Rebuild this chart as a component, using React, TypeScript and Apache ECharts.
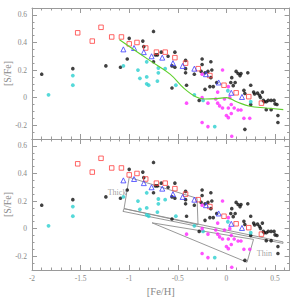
import { useEffect, useRef } from 'react';
import * as echarts from 'echarts';

// ---- data ([Fe/H], [S/Fe]) ----
const blackStars: number[][] = [
  [-1.90, 0.17], [-1.58, 0.21], [-1.24, 0.23], [-1.09, 0.22], [-1.00, 0.43], [-1.02, 0.28],
  [-0.86, 0.41], [-0.85, 0.37], [-0.75, 0.48], [-0.75, 0.26], [-0.71, 0.31], [-0.73, 0.31],
  [-0.67, 0.33], [-0.60, 0.30], [-0.53, 0.33], [-0.56, 0.23], [-0.53, 0.22], [-0.42, 0.27],
  [-0.42, 0.21], [-0.42, 0.18], [-0.33, 0.17], [-0.25, 0.28], [-0.25, 0.24], [-0.16, 0.26],
  [-0.26, 0.19], [-0.22, 0.18], [-0.19, 0.19], [-0.15, 0.20], [-0.16, 0.145], [-0.56, 0.07],
  [-0.41, 0.09], [-0.22, 0.06], [-0.17, 0.08], [-0.135, 0.08], [-0.10, 0.11], [-0.28, -0.02],
  [0.045, 0.11], [0.055, 0.145], [0.10, 0.19], [0.12, 0.175], [0.15, 0.175], [0.14, 0.16],
  [0.22, 0.18], [0.07, 0.087], [0.09, 0.11], [0.25, 0.09], [0.18, 0.053], [0.19, 0.03],
  [0.28, 0.04], [0.29, 0.026], [0.32, 0.033], [0.34, 0.017], [0.37, 0.04], [0.35, 0.002],
  [0.38, -0.02], [0.39, -0.03], [0.41, -0.03], [0.43, -0.02], [0.46, -0.02], [0.49, -0.02],
  [0.50, -0.045], [0.52, -0.05], [0.41, -0.087], [0.46, -0.087], [0.53, -0.13], [0.53, -0.18],
  [0.19, -0.23], [0.25, -0.05],
];
const redSquares: number[][] = [
  [-1.53, 0.47], [-1.38, 0.41], [-1.29, 0.51], [-1.18, 0.44], [-1.08, 0.44], [-1.00, 0.39],
  [-0.92, 0.40], [-0.83, 0.36], [-0.72, 0.33], [-0.63, 0.33], [-0.53, 0.29], [-0.42, 0.25],
  [-0.29, 0.21], [-0.17, 0.16], [-0.025, 0.09], [0.10, 0.035], [0.23, 0.007], [0.36, -0.04],
];
const blueTriangles: number[][] = [
  [-1.06, 0.35], [-0.95, 0.36], [-0.85, 0.33], [-0.77, 0.30], [-0.66, 0.29], [-0.55, 0.25],
  [-0.45, 0.23], [-0.33, 0.21], [-0.21, 0.17], [-0.08, 0.11], [0.05, 0.035], [0.16, 0.005],
];
const cyanStars: number[][] = [
  [-1.83, 0.02], [-1.58, 0.16], [-1.58, 0.09], [-1.06, 0.23], [-0.91, 0.20], [-0.89, 0.14],
  [-0.82, 0.26], [-0.82, 0.15], [-0.82, 0.10], [-0.80, 0.09], [-0.70, 0.215], [-0.70, 0.18],
  [-0.63, 0.21], [-0.71, 0.12], [-0.52, 0.09], [-0.33, 0.02], [-0.24, -0.02], [-0.12, -0.21],
  [0.015, 0.05], [0.25, -0.03],
];
const magentaStars: number[][] = [
  [-0.04, 0.20], [-0.25, 0.17], [-0.09, 0.04], [0.02, 0.08], [-0.41, -0.04], [-0.25, 0.00],
  [-0.19, -0.04], [-0.11, -0.01], [-0.09, -0.04], [-0.07, -0.06], [-0.04, -0.075], [-0.02, -0.01],
  [0.035, 0.0], [0.02, -0.075], [0.08, -0.075], [0.05, -0.05], [0.05, -0.115], [0.0, -0.13],
  [0.02, -0.145], [0.12, -0.09], [0.15, -0.09], [0.18, -0.15], [0.24, -0.15], [-0.25, -0.18],
  [-0.19, -0.21], [0.055, -0.28],
];
const greenTrend: number[][] = [
  [-1.10, 0.42], [-0.79, 0.27], [-0.58, 0.17], [-0.44, 0.07], [-0.31, 0.004], [-0.22, -0.01],
  [-0.10, -0.007], [0.0, 0.0], [0.105, -0.03], [0.24, -0.063], [0.41, -0.075], [0.585, -0.087],
];
const thickRegion: number[][] = [
  [-1.0, 0.372], [-0.302, 0.22], [-0.292, 0.028], [-1.053, 0.145], [-1.0, 0.372],
];
const thinBand: number[][] = [
  [-1.053, 0.145], [0.582, -0.096], [0.582, -0.107], [-1.064, 0.125], [-1.053, 0.145],
];
const thinWedge: number[][] = [
  [-0.765, 0.042], [0.279, -0.078], [0.212, -0.244], [-0.765, 0.042],
];
const regionLabels = [
  { name: 'Thick', value: [-1.125, 0.263] },
  { name: 'Thin', value: [0.39, -0.18] },
];

const X_MIN = -2;
const X_MAX = 0.65;
const Y_MIN = -0.3;
const Y_MAX = 0.65;

const AXIS_COLOR = '#9a9a9a';
const TEXT_COLOR = '#888888';
const FONT = '"Liberation Serif", "DejaVu Serif", serif';

function fmt(v: number) {
  const r = +v.toFixed(2);
  return r === 0 ? '0' : String(r);
}

function xAxesFor(grid: number, labels: boolean) {
  const base = { type: 'value' as const, gridIndex: grid, min: X_MIN, max: X_MAX, splitLine: { show: false } };
  const major = (position: 'bottom' | 'top', withLabels: boolean) => ({
    ...base,
    position,
    interval: 0.5,
    axisLine: { show: true, onZero: false, lineStyle: { color: AXIS_COLOR, width: 1 } },
    axisTick: { show: true, inside: true, length: 5, lineStyle: { color: AXIS_COLOR } },
    axisLabel: {
      show: withLabels, formatter: fmt, margin: 4, showMaxLabel: false,
      color: TEXT_COLOR, fontSize: 7.5, fontFamily: FONT,
    },
    name: withLabels ? '[Fe/H]' : '',
    nameLocation: 'middle' as const,
    nameGap: 16,
    nameTextStyle: { color: TEXT_COLOR, fontSize: 10.5, fontFamily: FONT },
  });
  const minor = (position: 'bottom' | 'top') => ({
    ...base,
    position,
    interval: 0.1,
    axisLine: { show: false, onZero: false },
    axisTick: { show: true, inside: true, length: 2.5, lineStyle: { color: AXIS_COLOR } },
    axisLabel: { show: false },
  });
  return [major('bottom', labels), minor('bottom'), major('top', false), minor('top')];
}

function yAxesFor(grid: number) {
  const base = { type: 'value' as const, gridIndex: grid, min: Y_MIN, max: Y_MAX, splitLine: { show: false } };
  const major = (position: 'left' | 'right', withLabels: boolean) => ({
    ...base,
    position,
    splitNumber: 5,
    axisLine: { show: true, onZero: false, lineStyle: { color: AXIS_COLOR, width: 1 } },
    axisTick: { show: true, inside: true, length: 5, lineStyle: { color: AXIS_COLOR } },
    axisLabel: {
      show: withLabels, formatter: fmt, margin: 5, showMinLabel: false, showMaxLabel: false,
      color: TEXT_COLOR, fontSize: 7.5, fontFamily: FONT,
    },
    name: withLabels ? '[S/Fe]' : '',
    nameLocation: 'middle' as const,
    nameGap: 20,
    nameMoveOverlap: false,
    nameTextStyle: { color: TEXT_COLOR, fontSize: 10, fontFamily: FONT },
  });
  const minor = (position: 'left' | 'right') => ({
    ...base,
    position,
    interval: 0.05,
    axisLine: { show: false, onZero: false },
    axisTick: { show: true, inside: true, length: 2.5, lineStyle: { color: AXIS_COLOR } },
    axisLabel: { show: false },
  });
  return [major('left', true), minor('left'), major('right', false), minor('right')];
}

function pointSeries(panel: number) {
  const ax = { xAxisIndex: panel * 4, yAxisIndex: panel * 4 };
  return [
    { ...ax, type: 'scatter', data: blackStars, symbol: 'circle', symbolSize: 3.6, itemStyle: { color: '#111111' } },
    { ...ax, type: 'scatter', data: cyanStars, symbol: 'circle', symbolSize: 3.8, itemStyle: { color: '#2ccfd0' } },
    { ...ax, type: 'scatter', data: magentaStars, symbol: 'circle', symbolSize: 3.6, itemStyle: { color: '#ff26ff' } },
    {
      ...ax, type: 'scatter', data: redSquares, symbol: 'rect', symbolSize: 4.5,
      itemStyle: { color: 'rgba(255,255,255,0)', borderColor: '#ff4040', borderWidth: 1 },
    },
    {
      ...ax, type: 'scatter', data: blueTriangles, symbol: 'triangle', symbolSize: 5,
      itemStyle: { color: 'rgba(255,255,255,0)', borderColor: '#3c3cff', borderWidth: 1 },
    },
  ];
}

function outline(data: number[][]) {
  return {
    type: 'line', xAxisIndex: 4, yAxisIndex: 4, data, showSymbol: false, symbol: 'none',
    lineStyle: { color: '#8c8c8c', width: 0.9 }, z: 1,
  };
}

export default function App() {
  const ref = useRef<HTMLDivElement>(null);
  useEffect(() => {
    if (!ref.current) return;
    const chart = echarts.init(ref.current, undefined, { renderer: 'svg' });
    chart.setOption({
      animation: false,
      backgroundColor: '#ffffff',
      grid: [
        { left: 32, top: 8, width: 257.6, height: 131, containLabel: false, outerBoundsMode: 'none' },
        { left: 32, top: 139, width: 257.6, height: 131, containLabel: false, outerBoundsMode: 'none' },
      ],
      xAxis: [...xAxesFor(0, false), ...xAxesFor(1, true)],
      yAxis: [...yAxesFor(0), ...yAxesFor(1)],
      series: [
        ...pointSeries(0),
        {
          type: 'line', xAxisIndex: 0, yAxisIndex: 0, data: greenTrend, smooth: 0.4,
          showSymbol: false, symbol: 'none', lineStyle: { color: '#5fd02c', width: 1.1 },
        },
        outline(thickRegion),
        outline(thinBand),
        outline(thinWedge),
        ...pointSeries(1),
        {
          type: 'scatter', xAxisIndex: 4, yAxisIndex: 4, data: regionLabels, symbolSize: 0,
          label: {
            show: true, position: 'inside', formatter: '{b}',
            color: TEXT_COLOR, fontSize: 8, fontFamily: FONT,
          },
        },
      ],
    });
    return () => chart.dispose();
  }, []);
  return (
    <div
      ref={ref}
      style={{ position: 'fixed', left: 0, top: 0, width: 299, height: 297, background: '#fff' }}
    />
  );
}
